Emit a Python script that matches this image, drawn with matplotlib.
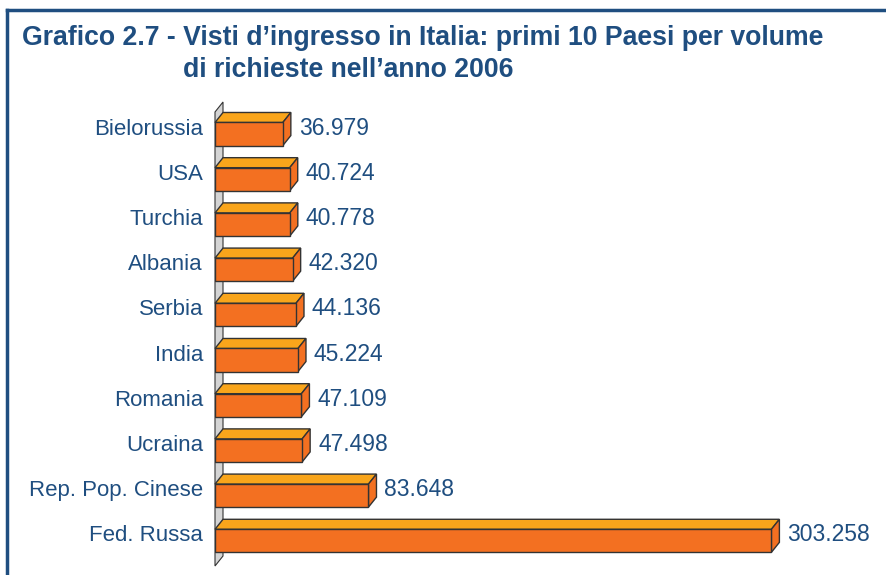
import matplotlib.pyplot as plt
from matplotlib.patches import Polygon
from matplotlib.lines import Line2D

# dati: visti d'ingresso 2006, primi 10 paesi
paesi = ['Bielorussia', 'USA', 'Turchia', 'Albania', 'Serbia', 'India',
         'Romania', 'Ucraina', 'Rep. Pop. Cinese', 'Fed. Russa']
visti = [36979, 40724, 40778, 42320, 44136, 45224, 47109, 47498, 83648, 303258]

blu = '#1f4e80'
front_col = '#f37021'
top_col = '#f9a51b'
side_col = '#f37021'
edge_col = '#333333'

plt.rcParams['font.family'] = ['Liberation Sans', 'DejaVu Sans']

W, H = 887, 575
fig = plt.figure(figsize=(W / 100, H / 100), dpi=100)

# axes placed in pixel units of the figure
ax_l, ax_r, ax_t, ax_b = 215, 870, 95, 565
ax = fig.add_axes([ax_l / W, 1 - ax_b / H, (ax_r - ax_l) / W, (ax_b - ax_t) / H])
xmax = 357000
ylo, yhi = 9.535, -0.863
ax.set_xlim(0, xmax)
ax.set_ylim(ylo, yhi)
ax.axis('off')

# data units per pixel
ux = xmax / (ax_r - ax_l)
uy = (ylo - yhi) / (ax_b - ax_t)
dx, dy = 8 * ux, -10 * uy   # 3d depth

# grey back wall
w_top = yhi + (112 - ax_t) * uy
w_bot = yhi + (566 - ax_t) * uy
ax.add_patch(Polygon([(0, w_top), (0, w_bot), (dx, w_bot + dy), (dx, w_top + dy)],
                     closed=True, facecolor='#d4d4d4', edgecolor=edge_col, lw=0.8,
                     clip_on=False, zorder=1))

h = 0.51
for i, (p, v) in enumerate(zip(paesi, visti)):
    y0, y1 = i - h / 2, i + h / 2
    ax.barh(i, v, height=h, color=front_col, edgecolor=edge_col, lw=1, zorder=3)
    ax.add_patch(Polygon([(0, y0), (v, y0), (v + dx, y0 + dy), (dx, y0 + dy)],
                         closed=True, facecolor=top_col, edgecolor=edge_col, lw=1,
                         clip_on=False, zorder=2))
    ax.add_patch(Polygon([(v, y0), (v, y1), (v + dx, y1 + dy), (v + dx, y0 + dy)],
                         closed=True, facecolor=side_col, edgecolor=edge_col, lw=1,
                         clip_on=False, zorder=2))
    lab = f'{v:,}'.replace(',', '.')
    ax.text(v + dx + 8 * ux, i - 6 * uy, lab, ha='left', va='center',
            fontsize=16.5, color=blu)
    ax.text(-12 * ux, i - 5 * uy, p, ha='right', va='center',
            fontsize=16, color=blu)

# titolo
fig.text(22 / W, 1 - 38 / H,
         'Grafico 2.7 - Visti d\u2019ingresso in Italia: primi 10 Paesi per volume',
         ha='left', va='center', fontsize=19.2, fontweight='bold', color=blu)
fig.text(183 / W, 1 - 70 / H, 'di richieste nell\u2019anno 2006',
         ha='left', va='center', fontsize=19.2, fontweight='bold', color=blu)

# cornice
fig.add_artist(Line2D([7 / W, 1], [1 - 10 / H, 1 - 10 / H], color=blu, lw=2.5))
fig.add_artist(Line2D([7 / W, 7 / W], [0, 1 - 10 / H], color=blu, lw=2.5))

fig.savefig('out.png', dpi=100)
